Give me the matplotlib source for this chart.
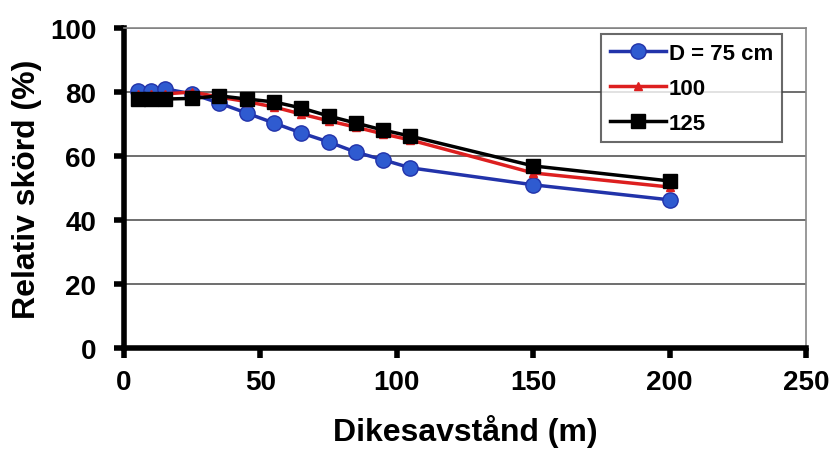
import matplotlib.pyplot as plt

plt.rcParams['font.family'] = ['Liberation Sans', 'DejaVu Sans']
plt.rcParams['font.weight'] = 'bold'

avstand = [5, 10, 15, 25, 35, 45, 55, 65, 75, 85, 95, 105, 150, 200]
d75 = [80.3, 80.3, 81.0, 79.4, 76.5, 73.4, 70.3, 67.2, 64.4, 61.2, 58.8, 56.3, 51.0, 46.3]
d100 = [79.4, 79.4, 79.4, 80.0, 78.4, 77.0, 75.3, 73.1, 71.0, 69.0, 66.9, 65.0, 54.7, 50.3]
d125 = [77.8, 77.8, 77.8, 78.0, 78.8, 77.8, 76.9, 75.0, 72.5, 70.3, 68.1, 66.2, 56.9, 52.2]

fig = plt.figure(figsize=(8.35, 4.64), dpi=100)
ax = fig.add_axes([124 / 835, 1 - 349 / 464, (806 - 124) / 835, (349 - 29) / 464])

ax.plot(avstand, d75, color='#2233aa', lw=2.5, marker='o', ms=11,
        mfc='#2f5bd0', mec='#2233aa', label='D = 75 cm', zorder=3)
ax.plot(avstand, d100, color='#dd1f1f', lw=2.5, marker='^', ms=6,
        label='100', zorder=4)
ax.plot(avstand, d125, color='black', lw=2.5, marker='s', ms=10,
        label='125', zorder=5)

ax.set_xlim(0, 250)
ax.set_ylim(0, 100)
ax.set_xticks(range(0, 251, 50))
ax.set_yticks(range(0, 101, 20))
ax.yaxis.grid(True, color='#555555', lw=1.2)
ax.set_axisbelow(True)

for s in ['left', 'bottom']:
    ax.spines[s].set_linewidth(4)
for s in ['top', 'right']:
    ax.spines[s].set_color('#888888')
    ax.spines[s].set_linewidth(1.2)
ax.tick_params(direction='out', length=7, width=4, labelsize=20)
ax.tick_params(axis='x', pad=8)
ax.tick_params(axis='y', pad=13)

ax.set_xlabel('Dikesavstånd (m)', fontsize=23, fontweight='bold', labelpad=14)
ax.set_ylabel('Relativ skörd (%)', fontsize=23, fontweight='bold', labelpad=6)

leg = ax.legend(loc='upper right', bbox_to_anchor=(0.965, 0.981), fontsize=16,
                frameon=True, fancybox=False, edgecolor='#444444',
                handlelength=2.5, handletextpad=0.15, borderpad=0.4,
                labelspacing=0.62, borderaxespad=0)
leg.get_frame().set_linewidth(1.5)

fig.savefig('out.png', dpi=100)
